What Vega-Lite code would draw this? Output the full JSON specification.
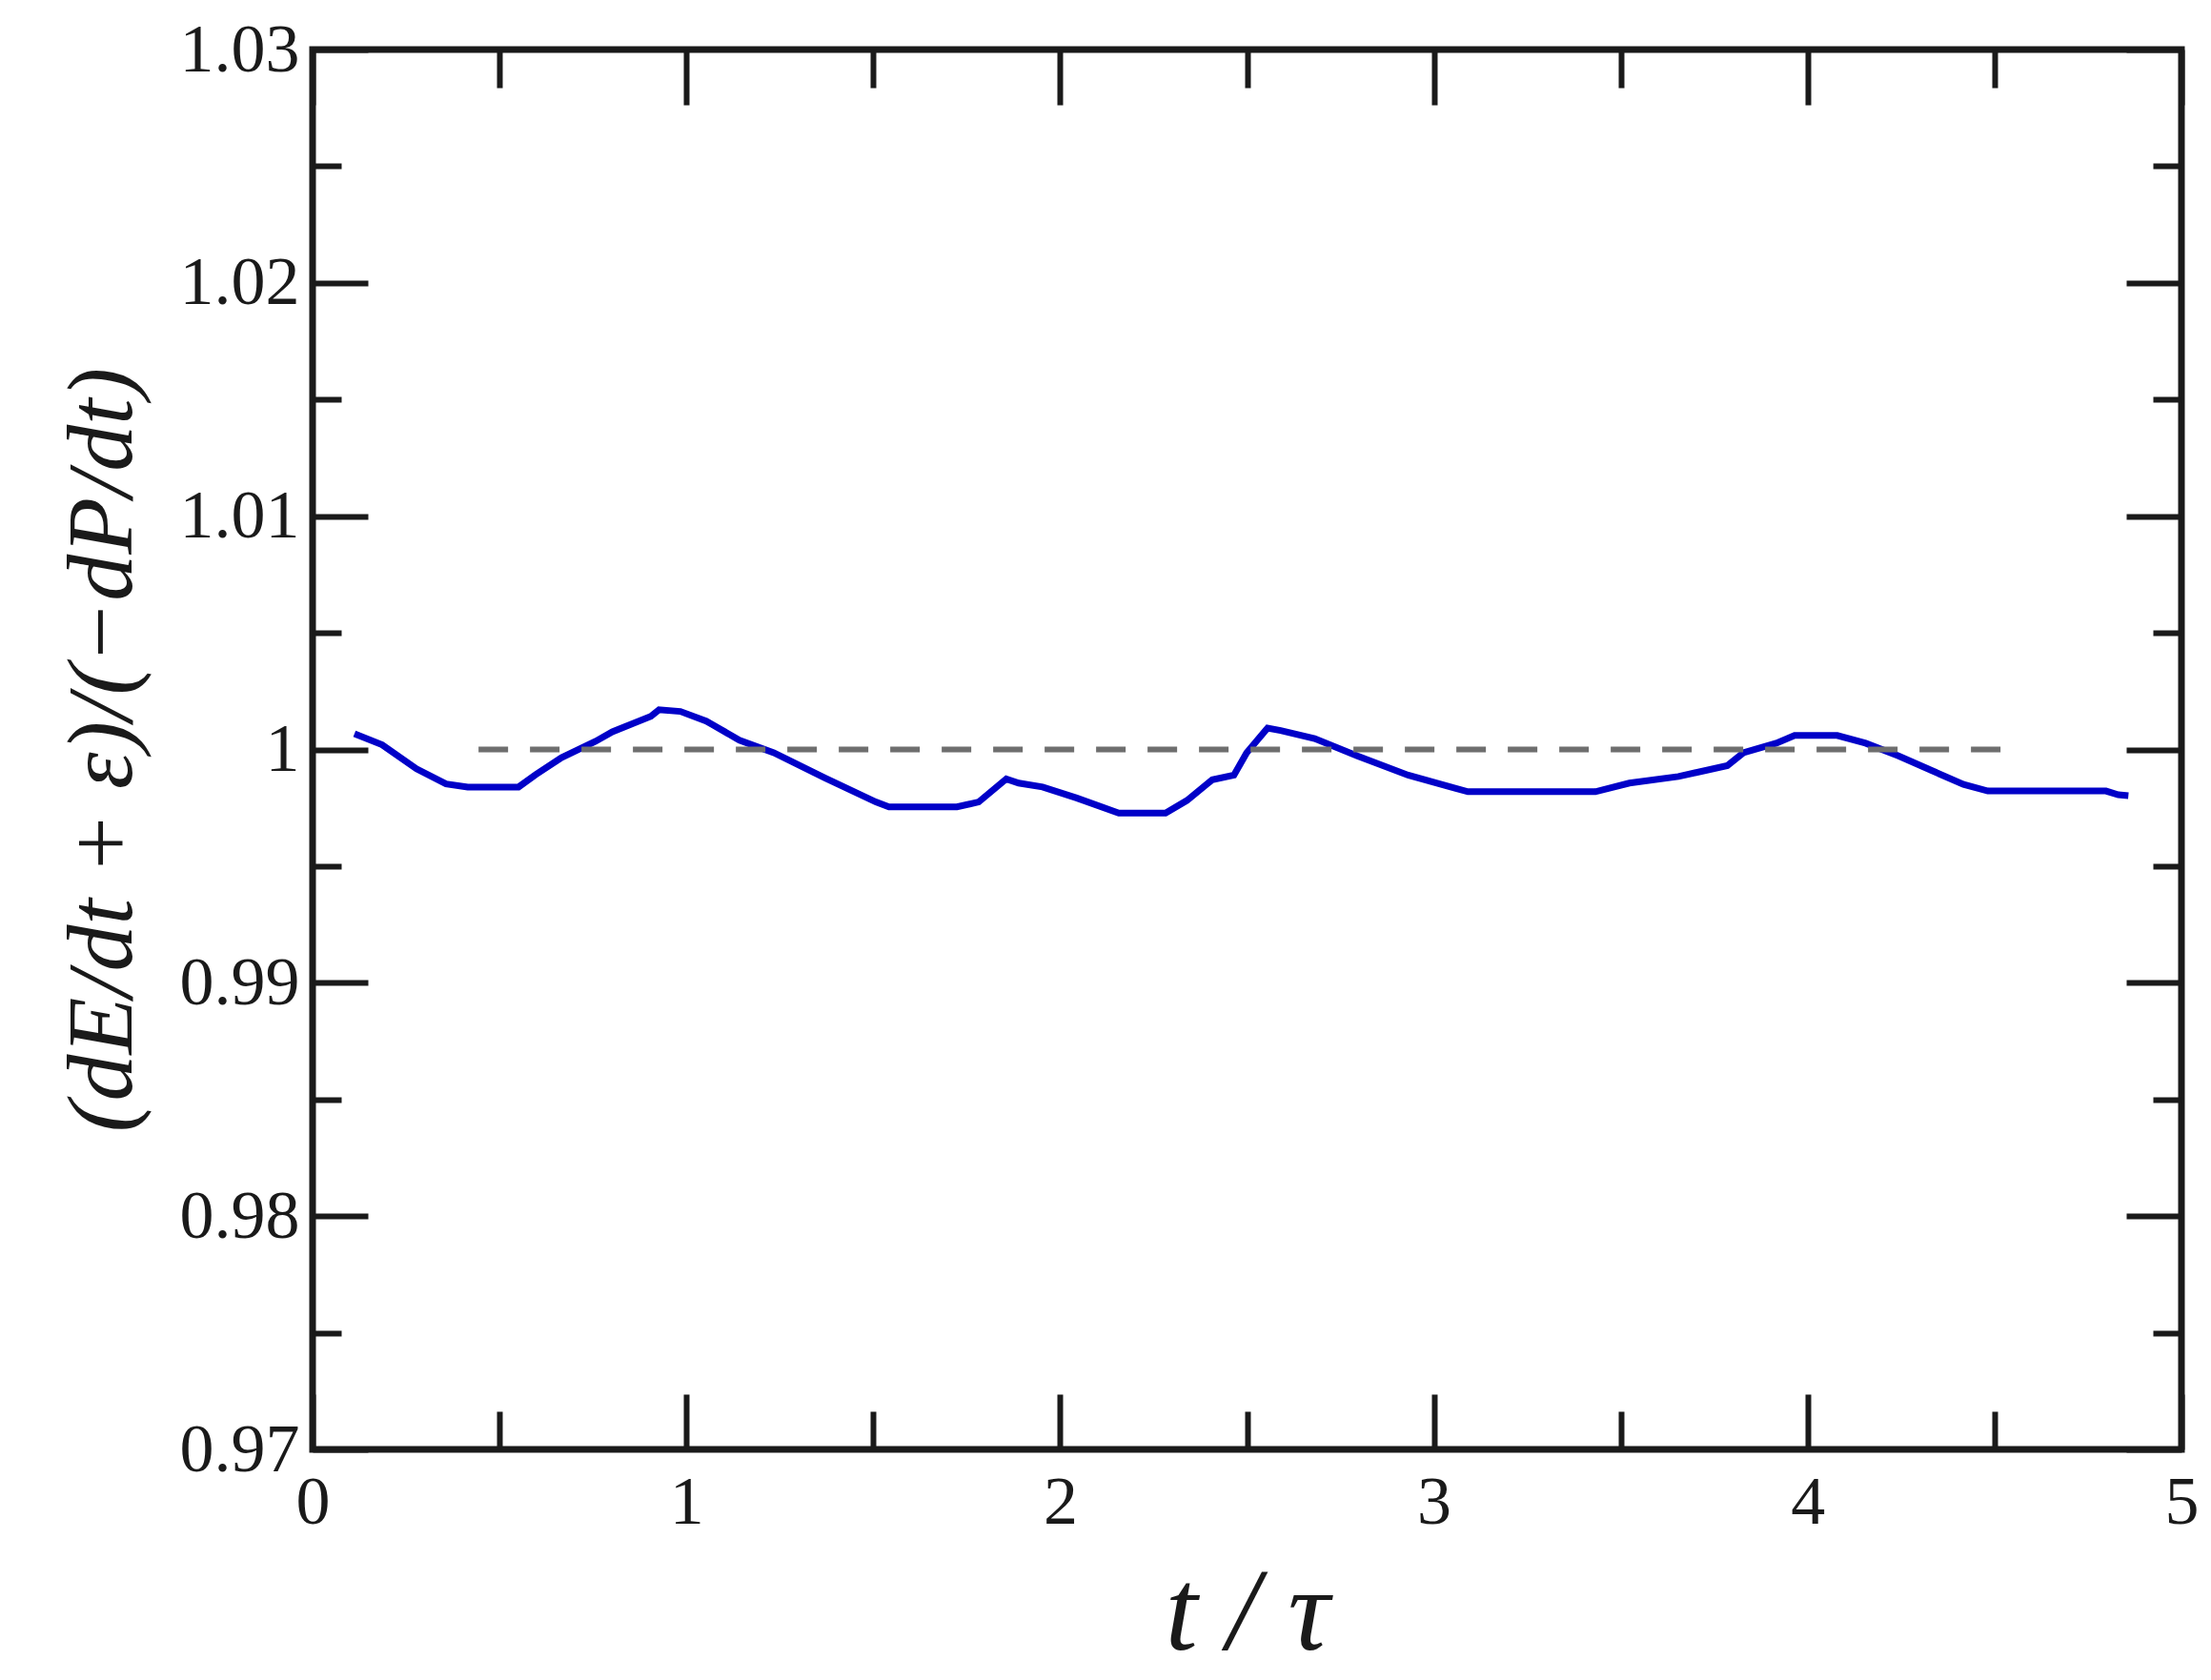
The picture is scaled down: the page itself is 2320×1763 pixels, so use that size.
{
  "$schema": "https://vega.github.io/schema/vega-lite/v6.json",
  "width": 1961,
  "height": 1469,
  "autosize": {"type": "none"},
  "padding": {"left": 328, "top": 52, "right": 31, "bottom": 242},
  "background": "white",
  "config": {
    "view": {"stroke": "#1a1a1a", "strokeWidth": 7},
    "axis": {"grid": false, "domain": false}
  },
  "datasets": {
    "series": [
      {"t": 0.112, "ratio": 1.00067},
      {"t": 0.186, "ratio": 1.0002},
      {"t": 0.278, "ratio": 0.99917},
      {"t": 0.357, "ratio": 0.99852},
      {"t": 0.415, "ratio": 0.99839},
      {"t": 0.551, "ratio": 0.99839},
      {"t": 0.597, "ratio": 0.99892},
      {"t": 0.666, "ratio": 0.99965},
      {"t": 0.757, "ratio": 1.00035},
      {"t": 0.802, "ratio": 1.00076},
      {"t": 0.905, "ratio": 1.00142},
      {"t": 0.927, "ratio": 1.0017},
      {"t": 0.984, "ratio": 1.00163},
      {"t": 1.053, "ratio": 1.00122},
      {"t": 1.142, "ratio": 1.0004},
      {"t": 1.234, "ratio": 0.99986},
      {"t": 1.372, "ratio": 0.99877},
      {"t": 1.507, "ratio": 0.99775},
      {"t": 1.542, "ratio": 0.99754},
      {"t": 1.724, "ratio": 0.99754},
      {"t": 1.782, "ratio": 0.99775},
      {"t": 1.856, "ratio": 0.99874},
      {"t": 1.889, "ratio": 0.99856},
      {"t": 1.953, "ratio": 0.99839},
      {"t": 2.044, "ratio": 0.99792},
      {"t": 2.157, "ratio": 0.99727},
      {"t": 2.282, "ratio": 0.99727},
      {"t": 2.339, "ratio": 0.99781},
      {"t": 2.407, "ratio": 0.9987},
      {"t": 2.465, "ratio": 0.9989},
      {"t": 2.499, "ratio": 0.99986},
      {"t": 2.555, "ratio": 1.00092},
      {"t": 2.59, "ratio": 1.00081},
      {"t": 2.681, "ratio": 1.00047},
      {"t": 2.795, "ratio": 0.99972},
      {"t": 2.931, "ratio": 0.9989},
      {"t": 3.045, "ratio": 0.99839},
      {"t": 3.091, "ratio": 0.99819},
      {"t": 3.432, "ratio": 0.99819},
      {"t": 3.523, "ratio": 0.99856},
      {"t": 3.654, "ratio": 0.99884},
      {"t": 3.785, "ratio": 0.99931},
      {"t": 3.828, "ratio": 0.99986},
      {"t": 3.916, "ratio": 1.00027},
      {"t": 3.965, "ratio": 1.0006},
      {"t": 4.079, "ratio": 1.0006},
      {"t": 4.155, "ratio": 1.00027},
      {"t": 4.243, "ratio": 0.99972},
      {"t": 4.33, "ratio": 0.99911},
      {"t": 4.417, "ratio": 0.9985},
      {"t": 4.482, "ratio": 0.99822},
      {"t": 4.798, "ratio": 0.99822},
      {"t": 4.831, "ratio": 0.99806},
      {"t": 4.858, "ratio": 0.99802}
    ],
    "reference": [
      {"t_start": 0.444, "t_end": 4.52, "ratio": 1}
    ]
  },
  "layer": [
    {
      "data": {"name": "series"},
      "mark": {"type": "line", "color": "#0000c8", "strokeWidth": 7, "interpolate": "linear"},
      "encoding": {
        "x": {
          "field": "t",
          "type": "quantitative",
          "scale": {"domain": [0, 5], "nice": false, "zero": false},
          "axis": {
            "orient": "bottom",
            "values": [0, 1, 2, 3, 4, 5],
            "ticks": false,
            "labelFlush": false,
            "labelFont": "Liberation Serif",
            "labelFontSize": 72,
            "labelColor": "#1a1a1a",
            "labelPadding": 20,
            "labelOverlap": false,
            "title": "t / τ",
            "titleFont": "Liberation Serif",
            "titleFontStyle": "italic",
            "titleFontWeight": "normal",
            "titleFontSize": 122,
            "titleColor": "#1a1a1a",
            "titlePadding": 22
          }
        },
        "y": {
          "field": "ratio",
          "type": "quantitative",
          "scale": {"domain": [0.97, 1.03], "nice": false, "zero": false},
          "axis": {
            "orient": "left",
            "values": [0.97, 0.98, 0.99, 1, 1.01, 1.02, 1.03],
            "ticks": false,
            "labelFlush": false,
            "labelExpr": "datum.value === 1 ? '1' : format(datum.value, '.2f')",
            "labelFont": "Liberation Serif",
            "labelFontSize": 72,
            "labelColor": "#1a1a1a",
            "labelPadding": 14,
            "labelOverlap": false,
            "title": "(dE/dt + ε)/(−dP/dt)",
            "titleFont": "Liberation Serif",
            "titleFontStyle": "italic",
            "titleFontWeight": "normal",
            "titleFontSize": 98,
            "titleColor": "#1a1a1a",
            "titlePadding": 30
          }
        }
      }
    },
    {
      "data": {"name": "reference"},
      "mark": {"type": "rule", "color": "#6e6e6e", "strokeWidth": 6, "strokeDash": [31, 23]},
      "encoding": {
        "x": {
          "field": "t_start",
          "type": "quantitative",
          "axis": {
            "orient": "bottom",
            "values": [0, 0.5, 1, 1.5, 2, 2.5, 3, 3.5, 4, 4.5, 5],
            "labels": false,
            "title": null,
            "tickColor": "#1a1a1a",
            "tickWidth": 6,
            "tickSize": {"condition": {"test": "abs(datum.value - round(datum.value)) < 0.001", "value": -58}, "value": -40}
          }
        },
        "x2": {"field": "t_end"},
        "y": {
          "field": "ratio",
          "type": "quantitative",
          "axis": {
            "orient": "left",
            "values": [0.97, 0.975, 0.98, 0.985, 0.99, 0.995, 1, 1.005, 1.01, 1.015, 1.02, 1.025, 1.03],
            "labels": false,
            "title": null,
            "tickColor": "#1a1a1a",
            "tickWidth": 6,
            "tickSize": {"condition": {"test": "abs(datum.value * 100 - round(datum.value * 100)) < 0.001", "value": -58}, "value": -30}
          }
        }
      }
    },
    {
      "data": {"name": "reference"},
      "mark": {"type": "rule", "strokeOpacity": 0},
      "encoding": {
        "x": {
          "field": "t_start",
          "type": "quantitative",
          "axis": {
            "orient": "top",
            "values": [0, 0.5, 1, 1.5, 2, 2.5, 3, 3.5, 4, 4.5, 5],
            "labels": false,
            "title": null,
            "tickColor": "#1a1a1a",
            "tickWidth": 6,
            "tickSize": {"condition": {"test": "abs(datum.value - round(datum.value)) < 0.001", "value": -58}, "value": -40}
          }
        },
        "x2": {"field": "t_end"},
        "y": {
          "field": "ratio",
          "type": "quantitative",
          "axis": {
            "orient": "right",
            "values": [0.97, 0.975, 0.98, 0.985, 0.99, 0.995, 1, 1.005, 1.01, 1.015, 1.02, 1.025, 1.03],
            "labels": false,
            "title": null,
            "tickColor": "#1a1a1a",
            "tickWidth": 6,
            "tickSize": {"condition": {"test": "abs(datum.value * 100 - round(datum.value * 100)) < 0.001", "value": -58}, "value": -30}
          }
        }
      }
    }
  ],
  "resolve": {"axis": {"x": "independent", "y": "independent"}}
}
